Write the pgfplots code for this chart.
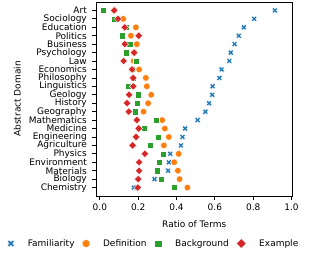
\documentclass[border=0pt]{standalone}
\usepackage{fontspec}
\setmainfont{DejaVu Sans}
\usepackage{pgfplots}
\usepackage{pgfplotstable}
\pgfplotsset{compat=1.18}
\definecolor{tabblue}{HTML}{1F77B4}
\definecolor{taborange}{HTML}{FF7F0E}
\definecolor{tabgreen}{HTML}{2CA02C}
\definecolor{tabred}{HTML}{D62728}
\pgfdeclareplotmark{Xf}{%
  \pgfpathmoveto{\pgfqpoint{-0.5\pgfplotmarksize}{-\pgfplotmarksize}}%
  \pgfpathlineto{\pgfqpoint{0pt}{-0.5\pgfplotmarksize}}%
  \pgfpathlineto{\pgfqpoint{0.5\pgfplotmarksize}{-\pgfplotmarksize}}%
  \pgfpathlineto{\pgfqpoint{\pgfplotmarksize}{-0.5\pgfplotmarksize}}%
  \pgfpathlineto{\pgfqpoint{0.5\pgfplotmarksize}{0pt}}%
  \pgfpathlineto{\pgfqpoint{\pgfplotmarksize}{0.5\pgfplotmarksize}}%
  \pgfpathlineto{\pgfqpoint{0.5\pgfplotmarksize}{\pgfplotmarksize}}%
  \pgfpathlineto{\pgfqpoint{0pt}{0.5\pgfplotmarksize}}%
  \pgfpathlineto{\pgfqpoint{-0.5\pgfplotmarksize}{\pgfplotmarksize}}%
  \pgfpathlineto{\pgfqpoint{-\pgfplotmarksize}{0.5\pgfplotmarksize}}%
  \pgfpathlineto{\pgfqpoint{-0.5\pgfplotmarksize}{0pt}}%
  \pgfpathlineto{\pgfqpoint{-\pgfplotmarksize}{-0.5\pgfplotmarksize}}%
  \pgfpathclose
  \pgfusepathqfillstroke}
\pgfplotstableread{
pos fam def bg ex
0 0.913 0.075 0.017 0.075
1 0.805 0.122 0.078 0.095
2 0.751 0.188 0.136 0.130
3 0.725 0.162 0.118 0.203
4 0.703 0.193 0.156 0.130
5 0.683 0.179 0.139 0.179
6 0.675 0.177 0.191 0.124
7 0.635 0.205 0.168 0.168
8 0.624 0.240 0.172 0.174
9 0.588 0.245 0.151 0.174
10 0.586 0.268 0.200 0.153
11 0.570 0.252 0.197 0.142
12 0.551 0.228 0.186 0.151
13 0.510 0.325 0.292 0.193
14 0.445 0.339 0.231 0.203
15 0.431 0.360 0.304 0.189
16 0.423 0.334 0.261 0.171
17 0.367 0.411 0.332 0.235
18 0.360 0.388 0.309 0.205
19 0.356 0.407 0.301 0.205
20 0.285 0.416 0.322 0.200
21 0.177 0.457 0.388 0.198
}\data
\newcommand{\nf}{\fontsize{9}{10.5}\selectfont}
\begin{document}
\begin{tikzpicture}[font=\nf]
\useasboundingbox (-96pt,-59pt) rectangle (218pt,196pt);
\begin{axis}[
  at={(0pt,0pt)}, anchor=south west,
  scale only axis, width=196.5pt, height=194pt,
  xmin=-0.02, xmax=1.005, ymin=-1, ymax=22, y dir=reverse,
  xtick={0,0.2,...,1.0},
  xticklabel style={font=\nf, /pgf/number format/fixed, /pgf/number format/fixed zerofill, /pgf/number format/precision=1, /pgf/number format/assume math mode=true, inner sep=3pt, yshift=-1.5pt},
  ytick={0,...,21},
  yticklabels={Art,Sociology,Education,Politics,Business,Psychology,Law,Economics,Philosophy,Linguistics,Geology,History,Geography,Mathematics,Medicine,Engineering,Agriculture,Physics,Environment,Materials,Biology,Chemistry},
  yticklabel style={font=\nf, inner sep=2pt, xshift=-3.5pt},
  tick align=outside, tick pos=left,
  major tick length=3.5pt,
  every tick/.style={black, line width=0.8pt},
  axis line style={line width=0.8pt},
  xlabel={Ratio of Terms}, ylabel={Abstract Domain},
  xlabel style={font=\nf, yshift=-3pt},
  ylabel style={font=\nf, yshift=2.5pt},
  legend columns=4,
  legend style={at={(0.293,-0.245)}, anchor=center, draw=none, fill=none,
    font=\nf,
    /tikz/every odd column/.append style={column sep=11pt},
    /tikz/every even column/.append style={column sep=5.5pt}},
  legend image code/.code={\path[draw=none,fill=none] (-4pt,-3pt) rectangle (4pt,3pt); \draw[#1] plot coordinates {(0pt,0pt)};},
  legend cell align=left,
]
\addplot[only marks, mark=Xf, mark size=2.9pt, mark options={fill=tabblue, draw=white, line width=0.4pt}, legend image post style={mark size=3.5pt}] table[x=fam, y=pos] {\data};
\addlegendentry{Familiarity}
\addplot[only marks, mark=*, mark size=3.3pt, mark options={fill=taborange, draw=white, line width=0.4pt}, legend image post style={mark size=4pt}] table[x=def, y=pos] {\data};
\addlegendentry{Definition}
\addplot[only marks, mark=square*, mark size=3.1pt, mark options={fill=tabgreen, draw=white, line width=0.4pt}, legend image post style={mark size=3.7pt}] table[x=bg, y=pos] {\data};
\addlegendentry{Background}
\addplot[only marks, mark=square*, mark size=2.7pt, mark options={fill=tabred, draw=white, line width=0.4pt, rotate=45}, legend image post style={mark size=3.5pt}] table[x=ex, y=pos] {\data};
\addlegendentry{Example}
\end{axis}
\end{tikzpicture}
\end{document}
